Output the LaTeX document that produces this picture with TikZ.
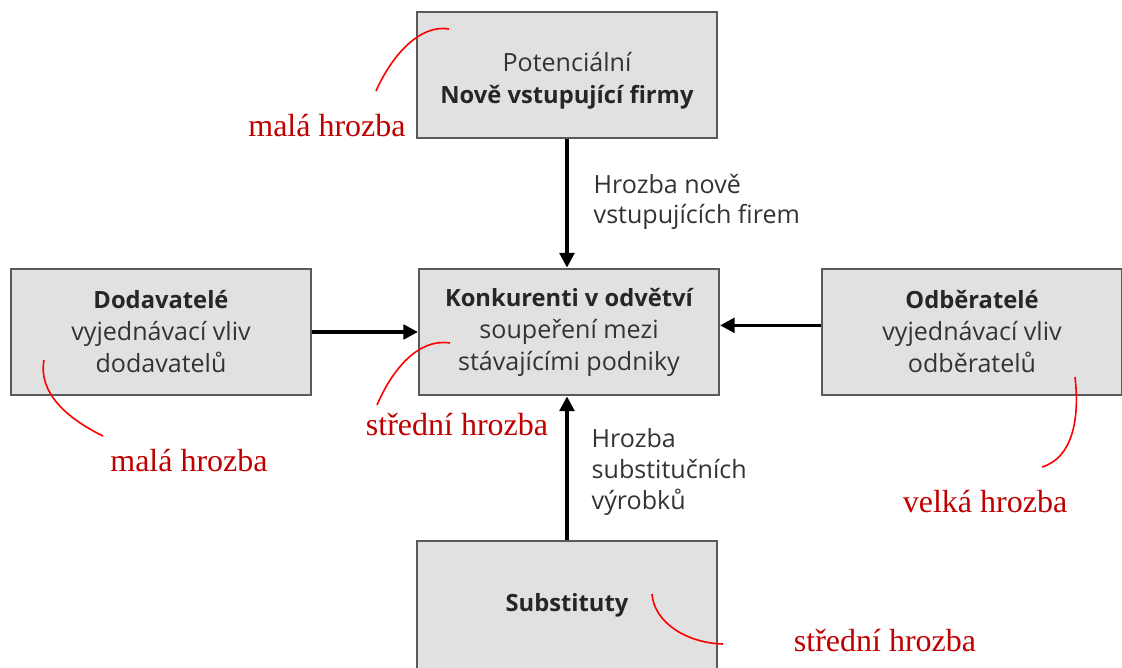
\documentclass[tikz,border=0pt]{standalone}
\usepackage{fontspec}
\setmainfont{Liberation Serif}
\newfontfamily\boxfont{Open Sans}
\usetikzlibrary{arrows.meta}
\definecolor{boxfill}{HTML}{E1E1E1}
\definecolor{boxline}{HTML}{5A5A5A}
\definecolor{boxtext}{HTML}{333333}
\definecolor{threat}{HTML}{C00000}
\newcommand{\headline}[1]{{\fontsize{17.8}{24}\selectfont\bfseries\color{black!85}#1}}
\begin{document}
\begin{tikzpicture}[x=0.75pt,y=-0.75pt,
  force/.style={draw=boxline,line width=1.6pt,fill=boxfill,rectangle,
    minimum width=225pt,minimum height=95pt,inner sep=0pt,
    font=\boxfont\fontsize{18.8}{24}\selectfont,text=boxtext,align=center},
  flow/.style={line width=2.6pt,-{Triangle[length=11pt,width=11pt]}},
  flowlabel/.style={font=\boxfont\fontsize{18.8}{23}\selectfont,text=boxtext,align=left,anchor=west},
  level/.style={font=\fontsize{24}{28}\selectfont,text=threat},
  leader/.style={draw=red,line width=1.2pt}]
\useasboundingbox (0,0) rectangle (1122,668);
% five forces
\node[force] (entrants) at (567,75) {\rule{0pt}{23pt}Potenciální\\\headline{Nově vstupující firmy}};
\node[force] (rivals) at (569,332) {\headline{Konkurenti v odvětví}\\soupeření mezi\\stávajícími podniky};
\node[force] (suppliers) at (161,332) {\headline{Dodavatelé}\\vyjednávací vliv\\dodavatelů};
\node[force] (buyers) at (972,332) {\headline{Odběratelé}\\vyjednávací vliv\\odběratelů};
\node[force,minimum height=96pt] (substitutes) at (567,605) {\headline{Substituty}};
% pressures on the industry
\draw[flow] (entrants.south) -- (entrants.south |- rivals.north);
\draw[flow] (suppliers.east) -- (rivals.west);
\draw[flow] ([yshift=5pt]buyers.west) -- ([yshift=5pt]rivals.east);
\draw[flow] (substitutes.north) -- (substitutes.north |- rivals.south);
\node[flowlabel] (newlabel) at (589,202) {Hrozba nově\\vstupujících firem};
\node[flowlabel] (sublabel) at (587,472) {Hrozba\\substitučních\\výrobků};
% threat levels
\node[level] (lvtop) at (327,126) {malá hrozba};
\node[level] (lvleft) at (189,461) {malá hrozba};
\node[level] (lvmid) at (457,425) {střední hrozba};
\node[level] (lvright) at (985,502) {velká hrozba};
\node[level] (lvbottom) at (885,641) {střední hrozba};
\coordinate (ptop) at (449,29);
\coordinate (pleft) at (44,360);
\coordinate (pmid) at (450,343);
\coordinate (pright) at (1075,377);
\coordinate (pbottom) at (652,594);
\draw[leader] (376,91) .. controls (392,55) and (420,24) .. (ptop);
\draw[leader] (pleft) .. controls (38,392) and (66,418) .. (103,436);
\draw[leader] (377,405) .. controls (392,370) and (418,338) .. (pmid);
\draw[leader] (pright) .. controls (1080,420) and (1072,458) .. (1042,467);
\draw[leader] (pbottom) .. controls (654,622) and (686,643) .. (723,644);
\end{tikzpicture}
\end{document}
